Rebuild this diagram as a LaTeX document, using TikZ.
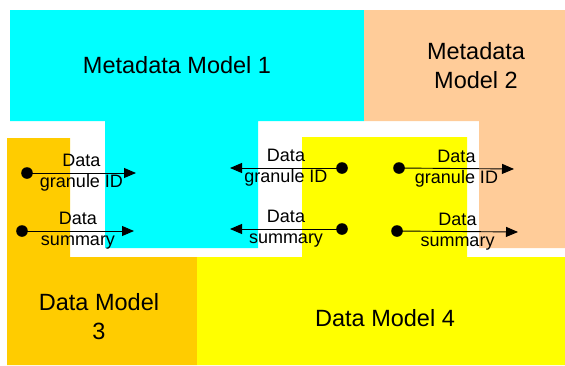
\documentclass[tikz,border=0pt]{standalone}
\usepackage{fontspec}
\setmainfont{Liberation Sans}
\usetikzlibrary{arrows.meta,calc}
\definecolor{mcyan}{HTML}{00FFFF}
\definecolor{mpeach}{HTML}{FFCC99}
\definecolor{morange}{HTML}{FFCC00}
\definecolor{myellow}{HTML}{FFFF00}
\tikzset{
  region/.style={draw=none},
  biglbl/.style={font=\fontsize{23.5}{29}\selectfont, align=center, inner sep=0pt, text=black},
  smalllbl/.style={font=\fontsize{18}{21}\selectfont, align=center, inner sep=0pt, text=black},
  conn/.style={line width=0.9pt, -{Triangle[length=12pt,width=10pt]}},
  dotmark/.style={fill=black},
}
\begin{document}
\begin{tikzpicture}[x=1pt,y=-1pt]
\useasboundingbox (0,0) rectangle (565,365);
% regions
\fill[region, mcyan] (10,10) -- (364,10) -- (364,121) -- (258,121) -- (258,248) -- (105,248) -- (105,121) -- (10,121) -- cycle;
\fill[region, mpeach] (364,10) -- (565,10) -- (565,248) -- (479,248) -- (479,121) -- (364,121) -- cycle;
\fill[region, morange] (7,138) -- (70,138) -- (70,257) -- (197,257) -- (197,365) -- (7,365) -- cycle;
\fill[region, myellow] (302,137) -- (467,137) -- (467,257) -- (565,257) -- (565,365) -- (197,365) -- (197,257) -- (302,257) -- cycle;
% big labels
\node[biglbl] (mm1) at (177,65) {Metadata Model 1};
\node[biglbl] (mm2) at (476,66) {Metadata\\Model 2};
\node[biglbl] (dm3) at (99,317) {Data Model\\3};
\node[biglbl] (dm4) at (385,318) {Data Model 4};
% connector end points
\coordinate (a1s) at (27,173);  \coordinate (a1e) at (136,173);
\coordinate (a2s) at (22,231);  \coordinate (a2e) at (134,231);
\coordinate (b1s) at (342,168); \coordinate (b1e) at (230,168);
\coordinate (b2s) at (342,229); \coordinate (b2e) at (230,229);
\coordinate (c1s) at (399,168); \coordinate (c1e) at (514,169);
\coordinate (c2s) at (397,231); \coordinate (c2e) at (518,232);
% connectors
\foreach \p in {a1,a2,b1,b2,c1,c2}{
  \draw[conn] (\p s) -- (\p e);
  \fill[dotmark] (\p s) circle (5.8);
}
% labels
\node[smalllbl] (la1) at ($(a1s)!0.5!(a1e)$) {Data\\granule ID};
\node[smalllbl] (la2) at ($(a2s)!0.5!(a2e)$) {Data\\summary};
\node[smalllbl] (lb1) at ($(b1s)!0.5!(b1e)$) {Data\\granule ID};
\node[smalllbl] (lb2) at ($(b2s)!0.5!(b2e)$) {Data\\summary};
\node[smalllbl] (lc1) at ($(c1s)!0.5!(c1e)$) {Data\\granule ID};
\node[smalllbl] (lc2) at ($(c2s)!0.5!(c2e)$) {Data\\summary};
\end{tikzpicture}
\end{document}
